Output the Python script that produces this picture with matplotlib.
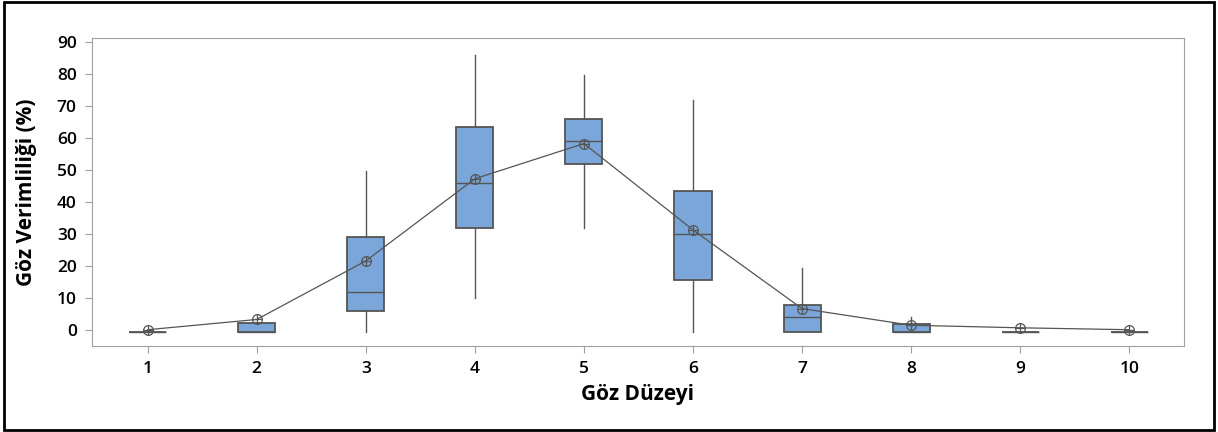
import matplotlib
matplotlib.use("agg")
import matplotlib.pyplot as plt
from matplotlib.patches import Rectangle

# Göz düzeyi (eye level) box stats
levels = [1, 2, 3, 4, 5, 6, 7, 8, 9, 10]
q1 = [-0.5, -0.5, 5.9, 31.8, 51.8, 15.6, -0.5, -0.5, -0.5, -0.5]
median = [-0.5, -0.5, 11.8, 46.0, 59.1, 30.0, 4.0, -0.5, -0.5, -0.5]
q3 = [-0.5, 2.1, 29.2, 63.4, 66.0, 43.4, 7.8, 2.0, -0.5, -0.5]
whis_lo = [-0.5, -0.5, -0.5, 9.9, 31.8, -0.5, -0.5, -0.5, -0.5, -0.5]
whis_hi = [-0.5, 2.1, 49.8, 85.9, 79.6, 71.8, 19.3, 4.0, -0.5, -0.5]
means = [0.1, 3.3, 21.6, 47.3, 58.3, 31.3, 6.7, 1.5, 0.7, 0.1]

box_color = "#7BA6D9"
edge = "#555555"
grey = "#A0A0A0"

plt.rcParams["font.family"] = ["Open Sans", "DejaVu Sans"]

fig = plt.figure(figsize=(12.18, 4.32), dpi=100)
ax = fig.add_axes([0.0755, 0.199, 0.8965, 0.713])

stats = []
for i in range(len(levels)):
    stats.append({
        "med": median[i], "q1": q1[i], "q3": q3[i],
        "whislo": whis_lo[i], "whishi": whis_hi[i], "fliers": [],
    })

ax.bxp(stats, positions=levels, widths=0.34, showcaps=False, patch_artist=True,
       boxprops=dict(facecolor=box_color, edgecolor=edge, linewidth=1.3),
       medianprops=dict(color=edge, linewidth=1.0),
       whiskerprops=dict(color=edge, linewidth=1.0),
       manage_ticks=False)

ax.plot(levels, means, color=edge, linewidth=0.9, zorder=4)
ax.plot(levels, means, "o", ms=7, mfc="none", mec=edge, mew=0.9, zorder=5)
ax.plot(levels, means, "+", ms=7, color=edge, mew=0.9, zorder=5)

ax.set_xlim(0.49, 10.5)
ax.set_ylim(-5, 91.3)
ax.set_xticks(levels)
ax.set_xticklabels([str(v) for v in levels])
ax.set_yticks(range(0, 100, 10))

for s in ax.spines.values():
    s.set_color(grey)
ax.tick_params(direction="out", length=5, color=grey, labelsize=12.5, pad=6)
for lab in ax.get_xticklabels() + ax.get_yticklabels():
    lab.set_fontweight("semibold")

ax.set_xlabel("Göz Düzeyi", fontsize=15, fontweight="bold", labelpad=5)
ax.set_ylabel("Göz Verimliliği (%)", fontsize=15, fontweight="bold", labelpad=14)

# outer frame
fig.patches.append(Rectangle((0.003, 0.004), 0.994, 0.992, transform=fig.transFigure,
                             fill=False, edgecolor="black", linewidth=2))

fig.savefig("out.png", dpi=100)
